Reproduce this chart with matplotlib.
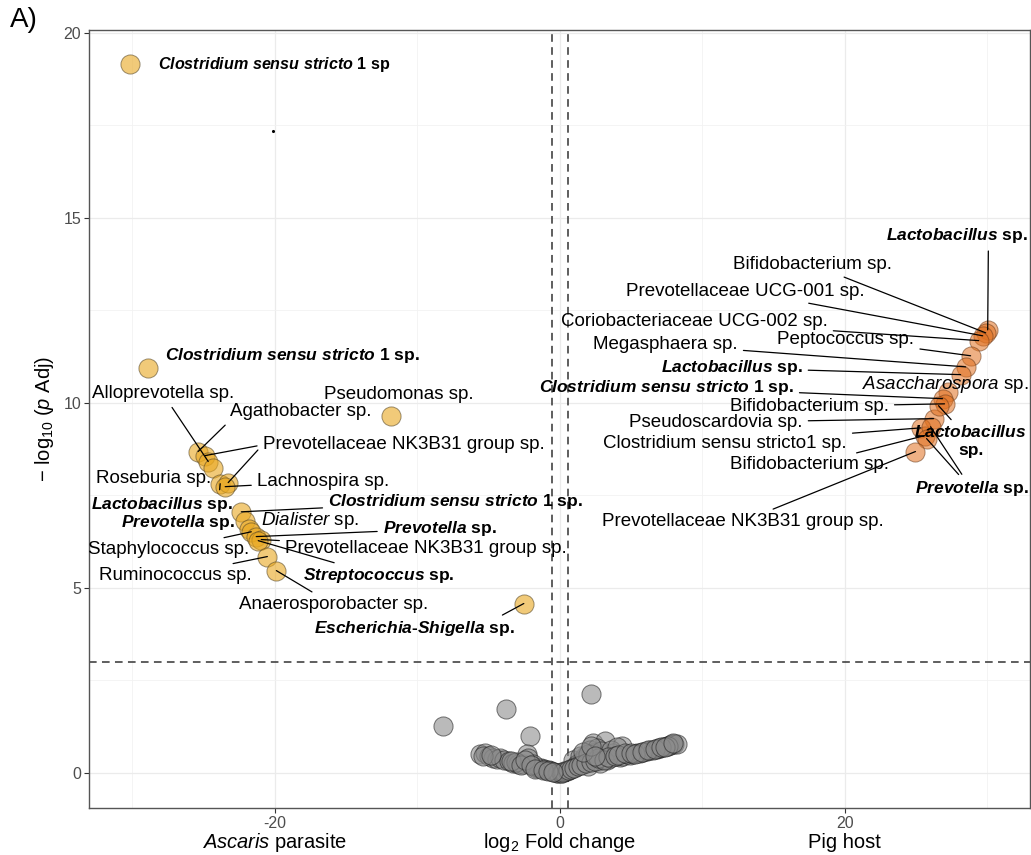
import matplotlib
matplotlib.use("Agg")
import matplotlib.pyplot as plt
import numpy as np

plt.rcParams['font.family'] = ['Liberation Sans', 'DejaVu Sans']
plt.rcParams['mathtext.fontset'] = 'custom'
plt.rcParams['mathtext.rm'] = 'Liberation Sans'
plt.rcParams['mathtext.it'] = 'Liberation Sans:italic'
plt.rcParams['mathtext.bf'] = 'Liberation Sans:bold'
plt.rcParams['mathtext.bfit'] = 'Liberation Sans:italic:bold'
plt.rcParams['axes.unicode_minus'] = False

# enriched in Ascaris (negative log2FC)
asc_lfc = [-30.17, -28.9, -11.88, -2.53,
           -25.39, -24.9, -24.68, -24.33, -23.84, -23.28, -23.49,
           -22.36, -22.08, -21.8, -21.66, -21.31, -20.96, -21.17, -20.53, -19.9]
asc_padj = [19.16, 10.95, 9.65, 4.57,
            8.68, 8.57, 8.41, 8.24, 7.81, 7.84, 7.73,
            7.05, 6.81, 6.59, 6.51, 6.38, 6.30, 6.27, 5.84, 5.46]
asc_label = [r"$\mathbfit{Clostridium\ sensu\ stricto}$ 1 sp",
             r"$\mathbfit{Clostridium\ sensu\ stricto}$ 1 sp.",
             "Pseudomonas sp.",
             r"$\mathbfit{Escherichia}$-$\mathbfit{Shigella}$ sp.",
             "Agathobacter sp.",
             "Prevotellaceae NK3B31 group sp.",
             "Alloprevotella sp.",
             "Roseburia sp.",
             r"$\mathbfit{Lactobacillus}$ sp.",
             "Prevotellaceae NK3B31 group sp.",
             "Lachnospira sp.",
             r"$\mathbfit{Clostridium\ sensu\ stricto}$ 1 sp.",
             r"$\mathbfit{Prevotella}$ sp.",
             r"$\mathit{Dialister}$ sp.",
             "Staphylococcus sp.",
             r"$\mathbfit{Prevotella}$ sp.",
             "Prevotellaceae NK3B31 group sp.",
             r"$\mathbfit{Streptococcus}$ sp.",
             "Ruminococcus sp.",
             "Anaerosporobacter sp."]

# enriched in pig host (positive log2FC)
pig_lfc = [30.03, 29.89, 29.68, 29.4, 28.83, 28.48, 28.13, 27.22, 26.86,
           27.0, 26.23, 26.58, 25.32, 25.6, 26.02, 25.74, 24.96]
pig_padj = [11.97, 11.89, 11.81, 11.68, 11.27, 10.97, 10.76, 10.3, 10.11,
            9.97, 9.57, 9.92, 9.32, 9.11, 9.35, 9.03, 8.68]
pig_label = [r"$\mathbfit{Lactobacillus}$ sp.",
             "Bifidobacterium sp.",
             "Prevotellaceae UCG-001 sp.",
             "Coriobacteriaceae UCG-002 sp.",
             "Peptococcus sp.",
             "Megasphaera sp.",
             r"$\mathbfit{Lactobacillus}$ sp.",
             r"$\mathit{Asaccharospora}$ sp.",
             r"$\mathbfit{Clostridium\ sensu\ stricto}$ 1 sp.",
             "Bifidobacterium sp.",
             "Pseudoscardovia sp.",
             r"$\mathbfit{Lactobacillus}$" + "\nsp.",
             "Clostridium sensu stricto1 sp.",
             "Bifidobacterium sp.",
             r"$\mathbfit{Prevotella}$ sp.",
             r"$\mathbfit{Prevotella}$ sp.",
             "Prevotellaceae NK3B31 group sp."]

# not significant
ns_lfc = [-8.21, -3.75, -2.11, 2.18, 2.34, 3.16, 4.34,
          -5.63, -5.27, -4.95, -4.69, -4.4, -4.22, -3.9, -3.6, -3.28, -2.93, -2.6,
          -2.34, -2.23, -1.88, -1.64, -1.45, -1.29, -1.1, -0.94, -0.75, -0.59,
          -0.4, -0.23, -0.1, 0.05, 0.12, 0.3, 0.47, 0.65, 0.82, 0.94, 1.05,
          1.17, 1.35, 1.52, 1.65, 1.76, 1.99, 2.1, 2.34, 2.58, 2.7, 2.81, 3.0,
          3.28, 3.5, 3.75, 3.99, 4.2, 4.45, 4.69, 4.9, 5.16, 5.4, 5.63, 5.85,
          6.1, 6.3, 6.56, 6.8, 7.03, 7.25, 7.5, 7.7, 7.85, 8.0, 8.2, 1.4, 2.0,
          2.9, 3.6, 4.0, 6.9, 7.6, -3.1, -1.9,
          0.2, 0.55, 0.75, 1.0, 1.25, 1.45, 1.85, 2.2, 2.45, 2.65, 3.1, 3.35,
          3.85, 4.1, 4.6, 5.0, 5.3, 5.75, 6.2, 6.7, 7.1, 7.4, 7.95, 1.6, 2.2,
          2.5, -5.4, -4.8, -3.45, -2.75, -2.45, -2.05, -1.75, -1.2, -0.85, -0.5]
ns_padj = [1.27, 1.72, 0.98, 2.11, 0.80, 0.85, 0.73,
           0.49, 0.53, 0.45, 0.40, 0.36, 0.40, 0.33, 0.30, 0.26, 0.22, 0.24,
           0.49, 0.40, 0.17, 0.13, 0.12, 0.13, 0.10, 0.08, 0.06, 0.04,
           0.02, 0.0, -0.02, 0.0, 0.0, 0.03, 0.04, 0.08, 0.13, 0.35, 0.16,
           0.22, 0.25, 0.35, 0.30, 0.44, 0.17, 0.62, 0.53, 0.67, 0.32, 0.26, 0.36,
           0.35, 0.40, 0.53, 0.44, 0.42, 0.44, 0.49, 0.47, 0.49, 0.52, 0.53, 0.56,
           0.58, 0.60, 0.62, 0.64, 0.67, 0.69, 0.73, 0.75, 0.78, 0.76, 0.76, 0.45, 0.50,
           0.58, 0.62, 0.70, 0.66, 0.72, 0.28, 0.22,
           0.02, 0.06, 0.10, 0.12, 0.18, 0.20, 0.25, 0.28, 0.30, 0.38, 0.33, 0.42,
           0.45, 0.48, 0.52, 0.52, 0.50, 0.55, 0.60, 0.63, 0.70, 0.70, 0.80, 0.55, 0.72,
           0.45, 0.45, 0.48, 0.30, 0.20, 0.33, 0.20, 0.10, 0.08, 0.05, 0.02]

stray_dot = (-20.11, 17.35)

# label placement (data coords of text centre) and whether a segment is drawn
asc_text_xy = [(-20.04, 19.16), (-18.81, 11.27), (-11.3, 10.22), (-10.2, 3.89),
               (-18.19, 9.75), (-10.98, 8.86), (-27.86, 10.24), (-28.54, 7.95),
               (-27.9, 7.24), (-10.98, 8.86), (-16.63, 7.87), (-7.33, 7.33),
               (-26.78, 6.76), (-17.52, 6.81), (-27.43, 6.03), (-8.44, 6.59),
               (-9.41, 6.05), (-12.69, 5.32), (-26.99, 5.33), (-15.91, 4.54)]
asc_seg = [0, 0, 0, 1, 1, 1, 1, 0, 1, 1, 1, 1, 0, 0, 1, 1, 1, 1, 1, 1]
asc_show = [1, 1, 1, 1, 1, 1, 1, 1, 1, 0, 1, 1, 1, 1, 1, 1, 1, 1, 1, 1]

pig_text_xy = [(27.89, 14.51), (17.76, 13.73), (13.05, 13.01), (9.44, 12.2),
               (20.08, 11.72), (7.42, 11.57), (12.07, 10.94), (27.06, 10.49),
               (7.49, 10.42), (17.52, 9.9), (10.96, 9.47), (28.83, 8.96),
               (11.6, 8.91), (17.52, 8.32), (28.89, 7.67), (28.89, 7.67),
               (12.83, 6.79)]
pig_seg = [1, 1, 1, 1, 1, 1, 1, 0, 1, 1, 1, 1, 1, 1, 1, 1, 1]
pig_show = [1, 1, 1, 1, 1, 1, 1, 1, 1, 1, 1, 1, 1, 1, 1, 0, 1]

fig = plt.figure(figsize=(10.31, 8.55), dpi=100)
ax = fig.add_axes([89 / 1031, 47 / 855, 941 / 1031, 778 / 855])

ax.set_xlim(-33.05, 33.0)
ax.set_ylim(-0.96, 20.08)

# theme_bw like grid
ax.set_xticks([-20, 0, 20])
ax.set_yticks([0, 5, 10, 15, 20])
ax.set_xticks([-30, -10, 10, 30], minor=True)
ax.set_yticks([2.5, 7.5, 12.5, 17.5], minor=True)
ax.grid(which='major', color='#EBEBEB', lw=0.9)
ax.grid(which='minor', color='#F2F2F2', lw=0.6)
ax.set_axisbelow(True)
ax.tick_params(which='minor', length=0)
ax.tick_params(which='major', length=3.5, width=0.8, color='#333333',
               labelsize=11.5, labelcolor='#4D4D4D', pad=2)
for s in ax.spines.values():
    s.set_color('#555555')
    s.set_linewidth(1.0)

ax.axvline(-0.58, color='#333333', ls=(0, (5, 3.5)), lw=1.1, zorder=1)
ax.axvline(0.58, color='#333333', ls=(0, (5, 3.5)), lw=1.1, zorder=1)
ax.axhline(3.0, color='#333333', ls=(0, (5, 3.5)), lw=1.1, zorder=1)

ax.scatter(ns_lfc, ns_padj, s=190, c='#8C8C8C', edgecolors='#222222',
           linewidths=0.7, alpha=0.6, zorder=2)
ax.scatter(asc_lfc, asc_padj, s=190, c='#E9A820', edgecolors='#5A4A2A',
           linewidths=0.7, alpha=0.6, zorder=3)
ax.scatter(pig_lfc, pig_padj, s=190, c='#E0701F', edgecolors='#6A3A1A',
           linewidths=0.7, alpha=0.55, zorder=3)
ax.scatter([stray_dot[0]], [stray_dot[1]], s=1.5, c='black', zorder=3)


def add_labels(xs, ys, labels, text_xy, seg, show, special=None):
    special = special or {}
    for i, (x, y, lab, (tx, ty), sg, sh) in enumerate(
            zip(xs, ys, labels, text_xy, seg, show)):
        bold = 'mathbfit' in lab
        fs = 12.5 if bold else 13.5
        extra = special.get(i, {})
        fs = extra.get('fs', fs)
        props = None
        if sg:
            props = dict(arrowstyle='-', color='black', lw=0.9, shrinkA=2,
                         shrinkB=0, relpos=extra.get('relpos', (0.5, 0.5)))
        ax.annotate(lab, xy=(x, y), xytext=(tx, ty), ha='center', va='center',
                    fontsize=fs, fontweight='bold' if bold else 'normal',
                    multialignment='center', arrowprops=props, zorder=4,
                    color='black' if sh else 'none')


add_labels(asc_lfc, asc_padj, asc_label, asc_text_xy, asc_seg, asc_show,
           special={0: {'fs': 11.6}, 3: {'relpos': (0.9, 1.0)},
                    4: {'relpos': (0.0, 0.0)}, 5: {'relpos': (0.0, 0.5)},
                    9: {'relpos': (0.0, 0.5)}, 8: {'relpos': (0.9, 1.0)}})
add_labels(pig_lfc, pig_padj, pig_label, pig_text_xy, pig_seg, pig_show,
           special={0: {'relpos': (0.72, 0.0)}})

# x axis annotations under the ticks
for xv, txt in [(-20, r"$\mathit{Ascaris}$ parasite"),
                (0, r"log$_2$ Fold change"),
                (20, "Pig host")]:
    ax.annotate(txt, xy=(xv, 0), xycoords=('data', 'axes fraction'),
                xytext=(0, -34), textcoords='offset pixels', ha='center',
                va='center', fontsize=14.5, annotation_clip=False)

fig.text(45 / 1031, 1 - 419 / 855, r"− log$_{10}$ ($\mathit{p}$ Adj)",
         rotation=90, ha='center', va='center', fontsize=14.5)
fig.text(10 / 1031, 1 - 20 / 855, "A)", ha='left', va='center', fontsize=20)

fig.savefig("out.png", dpi=100)
